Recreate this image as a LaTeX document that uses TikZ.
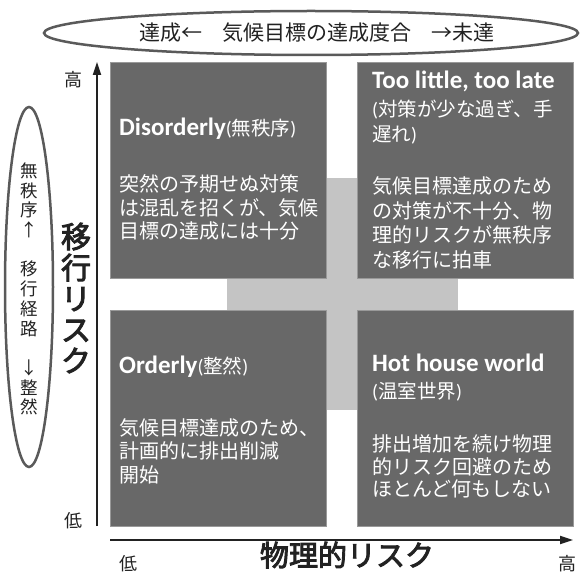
\documentclass[tikz,border=0pt]{standalone}
\usepackage{fontspec}
\setmainfont{Noto Sans CJK JP}
\newfontfamily\carl{Carlito}
\usetikzlibrary{arrows.meta,shapes.geometric}
\definecolor{dark}{HTML}{686868}
\definecolor{light}{HTML}{C4C4C4}
\definecolor{ink}{HTML}{222222}
\definecolor{rim}{HTML}{5A5A5A}
\newcommand\lp{{\carl(}}
\newcommand\rp{{\carl)}}
\newcommand\heavyon{\special{pdf:literal direct 0.9 w 2 Tr}}
\newcommand\heavyoff{\special{pdf:literal direct 0 Tr}}
\tikzset{
  quad/.style={fill=dark, draw=gray!80, line width=0.6pt, minimum width=216pt, minimum height=216pt, inner sep=0pt},
  ttl/.style={anchor=west, inner sep=0pt, text=white, font=\carl\bfseries\fontsize{25}{28}\selectfont},
  body/.style={anchor=west, inner sep=0pt, text=white, align=left, font=\fontsize{20}{23.5}\selectfont},
  axis/.style={draw=ink, line width=1.8pt, -{Triangle[length=13pt,width=8pt]}},
  small/.style={inner sep=0pt, text=ink, font=\fontsize{18}{18}\selectfont},
  big/.style={inner sep=0pt, text=ink, align=center, font=\fontsize{30}{31}\selectfont},
  oval/.style={ellipse, draw=rim, line width=2.5pt, inner sep=0pt, text=ink}
}
\begin{document}
\begin{tikzpicture}[x=1pt,y=-1pt]
\useasboundingbox (0,0) rectangle (580,572);
\fill[white] (0,0) rectangle (580,572);
% central cross background
\node[fill=light, minimum width=231pt, minimum height=232pt, inner sep=0pt] (cross) at (342.5,294) {};
% quadrants
\node[quad] (tl) at (218.5,170) {};
\node[quad] (tr) at (465.5,170) {};
\node[quad] (bl) at (218.5,418.5) {};
\node[quad] (br) at (465.5,418.5) {};
% texts TL
\node[ttl] (tlt) at (119,129) {Disorderly{\mdseries\fontspec{Noto Sans CJK JP}\fontsize{19.5}{24}\selectfont\lp 無秩序\rp}};
\node[body] (tlb) at (119,207.5) {突然の予期せぬ対策\\は混乱を招くが、気候\\目標の達成には十分};
% TR
\node[ttl] (trt) at (372,81) {Too little, too late};
\node[body, font=\fontsize{19.5}{25}\selectfont] (trp) at (372,122.5) {\lp 対策が少な過ぎ、手\\遅れ\rp};
\node[body, font=\fontsize{20}{24.4}\selectfont] (trb) at (372,223) {気候目標達成のため\\の対策が不十分、物\\理的リスクが無秩序\\な移行に拍車};
% BL
\node[ttl] (blt) at (119,367) {Orderly{\mdseries\fontspec{Noto Sans CJK JP}\fontsize{19.5}{24}\selectfont\lp 整然\rp}};
\node[body] (blb) at (119,451) {気候目標達成のため、\\計画的に排出削減\\開始};
% BR
\node[ttl] (brt) at (372,363) {Hot house world};
\node[body, font=\fontsize{19.5}{23.5}\selectfont] (brp) at (372,392) {\lp 温室世界\rp};
\node[body, font=\fontsize{20}{22.5}\selectfont] (brb) at (372,466.5) {排出増加を続け物理\\的リスク回避のため\\ほとんど何もしない};
% axes
\coordinate (yo) at (97,526);
\coordinate (yt) at (97,62);
\coordinate (xo) at (110,540);
\coordinate (xe) at (573,540);
\draw[axis] (yo) -- (yt);
\draw[axis] (xo) -- (xe);
\node[small] (yhi) at (73,80) {高};
\node[small] (ylo) at (73,521) {低};
\node[small] (xlo) at (128,564) {低};
\node[small] (xhi) at (567,564) {高};
\node[big] (ylab) at (76,298) {\heavyon 移\\行\\リ\\ス\\ク\heavyoff};
\node[big, font=\fontsize{29}{30}\selectfont] (xlab) at (347,555) {\heavyon 物理的リスク\heavyoff};
% ellipses
\node[oval, minimum width=534pt, minimum height=44pt] (goal) at (311,33) {};
\node[inner sep=0pt, text=ink, font=\fontsize{21}{21}\selectfont] (goaltxt) at (317,33) {達成←\hspace{20pt}気候目標の達成度合\hspace{20pt}→未達};
\node[oval, minimum width=48pt, minimum height=360pt] (path) at (29,287) {};
\node[inner sep=0pt, text=ink, align=center, font=\fontsize{17.5}{19.7}\selectfont] (pathtxt) at (29,289) {無\\秩\\序\\↑\\　\\移\\行\\経\\路\\　\\↓\\整\\然};
\end{tikzpicture}
\end{document}
